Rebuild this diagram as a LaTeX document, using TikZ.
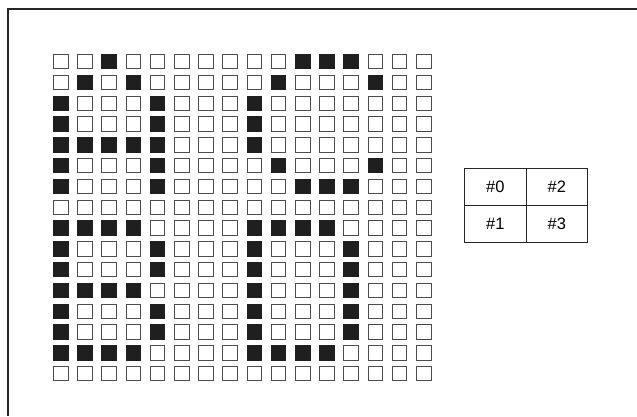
\documentclass[tikz,border=0pt]{standalone}
\usepackage{fontspec}
\setmainfont{Liberation Sans}
\usetikzlibrary{positioning}

\begin{document}
\begin{tikzpicture}[x=1pt,y=-1pt,
  cell/.style={draw=black!70,line width=1pt,minimum size=14.5pt,inner sep=0pt,outer sep=0pt},
  tab/.style={draw=black!85,line width=0.9pt,minimum width=61.5pt,minimum height=37pt,inner sep=0pt,outer sep=0pt,font=\fontsize{16.5}{18}\selectfont}]
  \useasboundingbox (0,0) rectangle (637,416);
  \draw[line width=1.4pt,black!85] (637,9) -- (8,9) -- (8,416);
  % 16x16 grid of cells
  \foreach \r in {0,...,15}
    \foreach \c in {0,...,15}
      \node[cell] (c-\c-\r) at ({60.8+24.2*\c},{61.7+20.8*\r}) {};
  % filled cells: A and C on top, B and D below
  \foreach \c/\r in {2/0,1/1,3/1,0/2,4/2,0/3,4/3,0/4,1/4,2/4,3/4,4/4,0/5,4/5,0/6,4/6,
      10/0,11/0,12/0,9/1,13/1,8/2,8/3,8/4,9/5,13/5,10/6,11/6,12/6,
      0/8,1/8,2/8,3/8,0/9,4/9,0/10,4/10,0/11,1/11,2/11,3/11,0/12,4/12,0/13,4/13,0/14,1/14,2/14,3/14,
      8/8,9/8,10/8,11/8,8/9,12/9,8/10,12/10,8/11,12/11,8/12,12/12,8/13,12/13,8/14,9/14,10/14,11/14}
    \filldraw[black!88,line width=1pt] (c-\c-\r.south west) rectangle (c-\c-\r.north east);
  % table
  \node[tab] (t0) at (495.25,186.5) {\#0};
  \node[tab,below=0pt of t0] (t1) {\#1};
  \node[tab,right=0pt of t0] (t2) {\#2};
  \node[tab,below=0pt of t2] (t3) {\#3};
\end{tikzpicture}
\end{document}
